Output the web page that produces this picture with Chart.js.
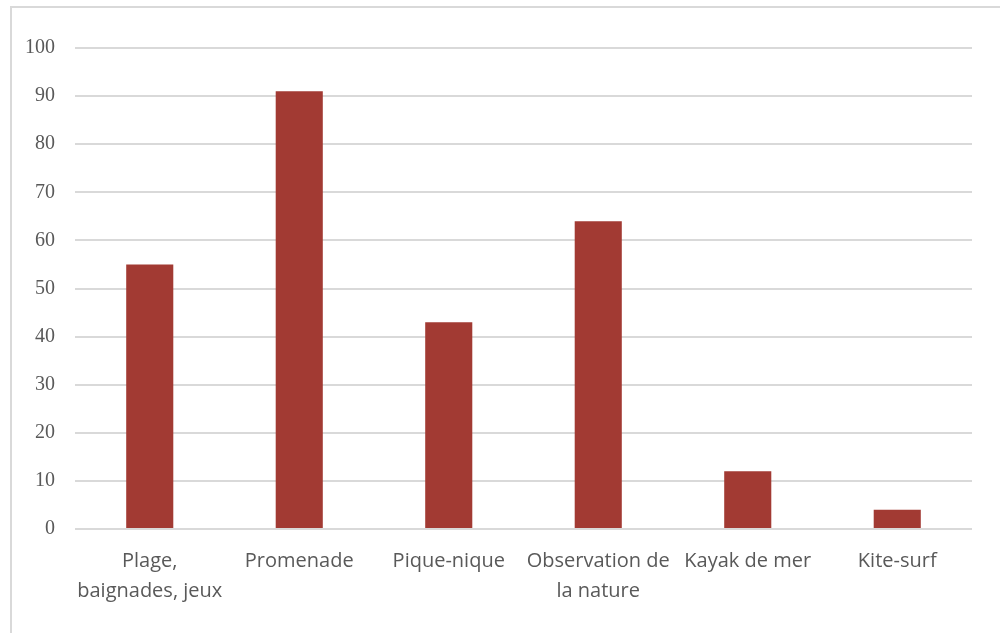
<!DOCTYPE html>
<html>
<head>
<meta charset="utf-8">
<script src="https://cdn.jsdelivr.net/npm/chart.js@4/dist/chart.umd.min.js"></script>
<style>
  html, body { margin: 0; padding: 0; background: #fff; }
  #wrap { position: relative; width: 1000px; height: 635px; overflow: hidden; }
  #frame { position: absolute; left: 10px; top: 6px; width: 1100px; height: 627px;
           border-left: 2px solid #d9d9d9; border-top: 2px solid #d9d9d9; box-sizing: border-box; }
  canvas { position: absolute; left: 0; top: 0; }
</style>
</head>
<body>
<div id="wrap">
  <div id="frame"></div>
  <canvas id="chart" width="1000" height="635"></canvas>
</div>
<script>
// activities and counts
const categories = [
  ["Plage,", "baignades, jeux"],
  "Promenade",
  "Pique-nique",
  ["Observation de", "la nature"],
  "Kayak de mer",
  "Kite-surf",
];
const counts = [55, 91, 43, 64, 12, 4];
const yTicks = { min: 0, max: 100, step: 10 };

new Chart(document.getElementById("chart"), {
  type: "bar",
  data: {
    labels: categories,
    datasets: [
      {
        data: counts,
        backgroundColor: "#a23a33",
        categoryPercentage: 1,
        barPercentage: 0.315,
      },
    ],
  },
  options: {
    responsive: false,
    animation: false,
    layout: { padding: { left: 0, right: 28, top: 48, bottom: 0 } },
    plugins: { legend: { display: false }, tooltip: { enabled: false } },
    scales: {
      x: {
        grid: { display: false },
        border: { display: false },
        ticks: {
          color: "#595959",
          padding: 9,
          maxRotation: 0,
          autoSkip: false,
          font: { family: "'Open Sans', 'Noto Sans', sans-serif", size: 20, lineHeight: 1.5 },
        },
        afterFit: (s) => { s.height = 106; },
      },
      y: {
        min: yTicks.min,
        max: yTicks.max,
        grid: { color: "#d9d9d9", lineWidth: 2, drawTicks: false },
        border: { display: false },
        ticks: {
          stepSize: yTicks.step,
          color: "#595959",
          padding: 20,
          font: { family: "'Liberation Serif', serif", size: 20 },
        },
        afterFit: (s) => { s.width = 75; },
      },
    },
  },
});
</script>
</body>
</html>
